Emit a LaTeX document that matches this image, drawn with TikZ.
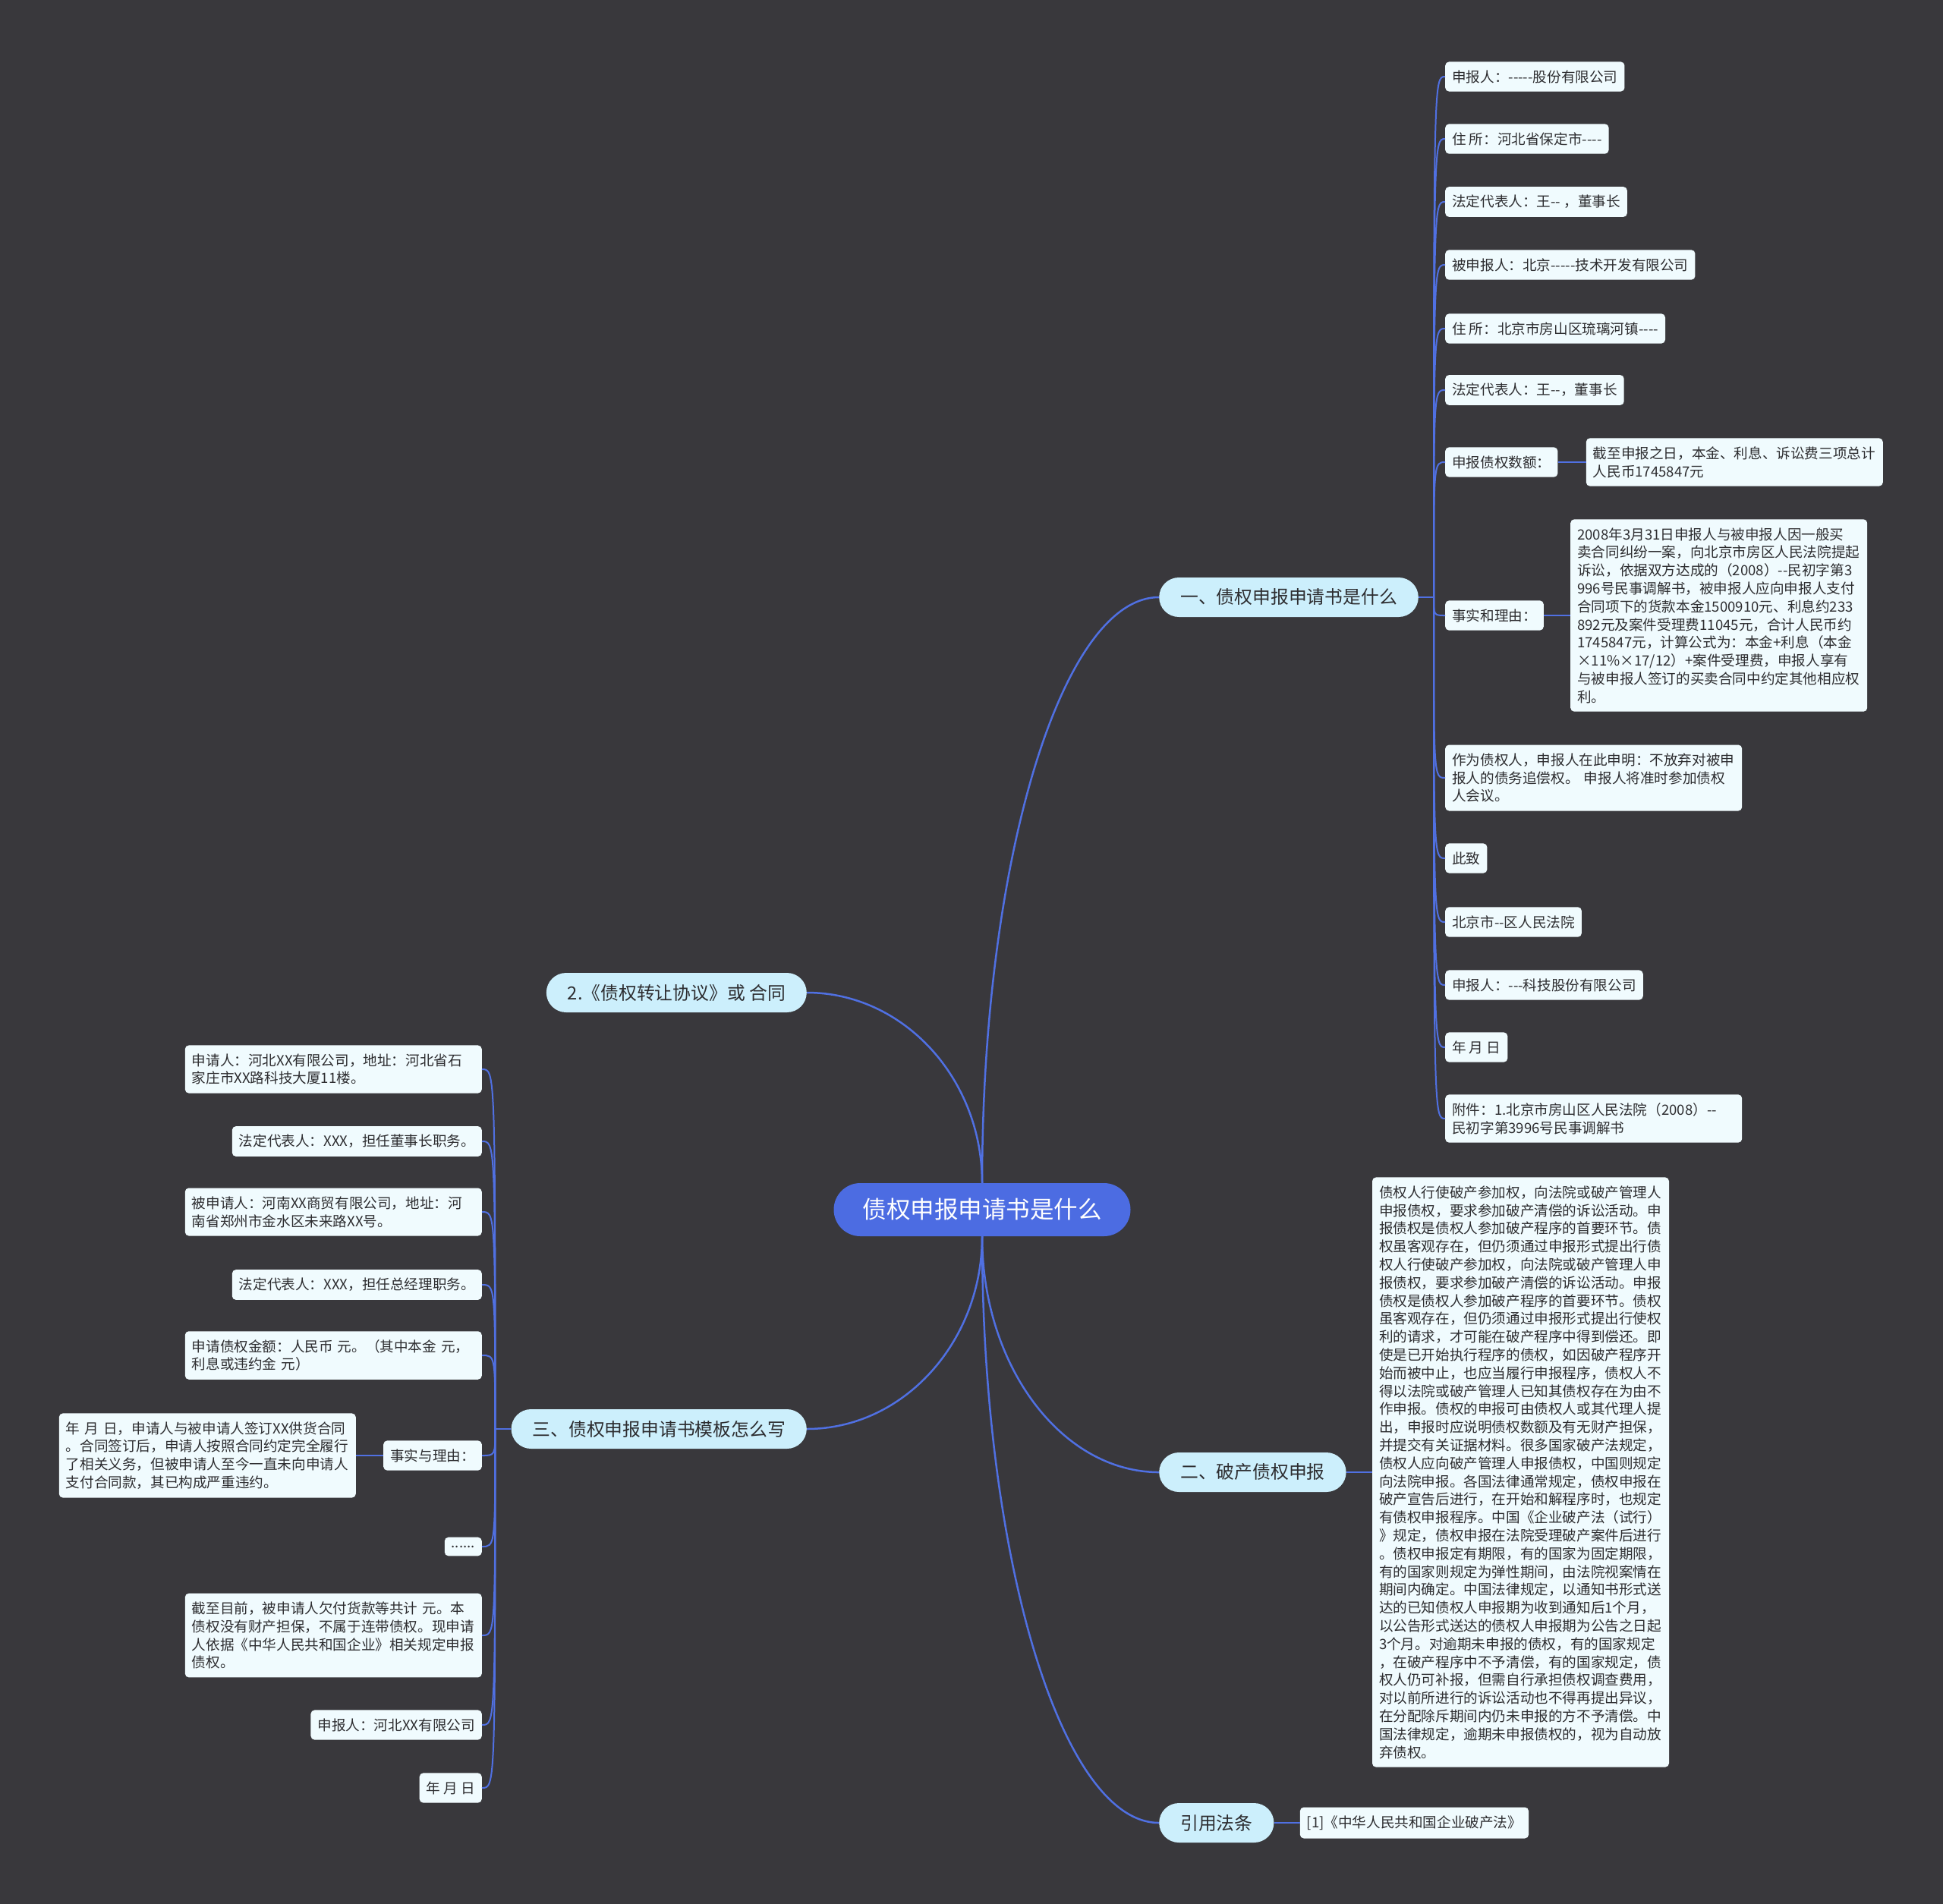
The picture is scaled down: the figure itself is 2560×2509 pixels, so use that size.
\documentclass[tikz,border=0pt]{standalone}
\usepackage{fontspec}
\newfontfamily\cjk{Noto Sans CJK SC}[Ligatures=TeXOff]
\usepackage{tikz}
\usetikzlibrary{positioning,calc}
\definecolor{bgc}{RGB}{57,56,60}
\definecolor{lkc}{RGB}{80,112,226}
\definecolor{rootc}{RGB}{76,108,226}
\definecolor{brc}{RGB}{204,239,252}
\definecolor{lfc}{RGB}{240,251,254}
\definecolor{txc}{RGB}{45,45,48}
\begin{document}
\begin{tikzpicture}[x=1pt,y=-1pt]
\tikzstyle{root}=[fill=rootc,text=white,rounded corners=35pt,minimum height=70pt,inner xsep=38pt,font=\cjk\fontsize{31.5}{36}\selectfont]
\tikzstyle{br}=[fill=brc,text=txc,rounded corners=26pt,minimum height=52pt,inner xsep=28pt,font=\cjk\fontsize{23.8}{28}\selectfont]
\tikzstyle{lf}=[fill=lfc,text=txc,rounded corners=5pt,inner xsep=9pt,inner ysep=11pt,align=left,font=\cjk\fontsize{18.6}{23.8}\selectfont]
\tikzstyle{wr}=[text width=373pt]
\tikzstyle{lk}=[draw=lkc,line width=2.5pt]
\tikzstyle{lk2}=[draw=lkc,line width=2pt]
\tikzstyle{mmcurve}=[to path={.. controls ($(\tikztostart)!0.55!(\tikztostart |- \tikztotarget)$)
  and ($(\tikztotarget)!0.55!(\tikztostart |- \tikztotarget)$) .. (\tikztotarget)}]
\fill[bgc] (0,0) rectangle (2560,2509);
\useasboundingbox (0,0) rectangle (2560,2509);
% centre and main branches
\node[root] (root) at (1294,1594) {债权申报申请书是什么};
\node[br,anchor=west] (b1) at (1527,787) {一、债权申报申请书是什么};
\node[br,anchor=west] (b2) at (1527,1940) {二、破产债权申报};
\node[br,anchor=west] (b3) at (1527,2402) {引用法条};
\node[br,anchor=east] (b4) at (1063,1308) {2.《债权转让协议》或 合同};
\node[br,anchor=east] (b5) at (1063,1883) {三、债权申报申请书模板怎么写};
\draw[lk,mmcurve] (root.north) to (b1.west);
\draw[lk,mmcurve] (root.north) to (b4.east);
\draw[lk,mmcurve] (root.south) to (b2.west);
\draw[lk,mmcurve] (root.south) to (b3.west);
\draw[lk,mmcurve] (root.south) to (b5.east);
% branch one
\node[lf,anchor=west] (r1) at (1904,101) {申报人：-----股份有限公司};
\node[lf,anchor=west] (r2) at (1904,183) {住 所：河北省保定市----};
\node[lf,anchor=west] (r3) at (1904,266) {法定代表人：王-- ，董事长};
\node[lf,anchor=west] (r4) at (1904,349) {被申报人：北京-----技术开发有限公司};
\node[lf,anchor=west] (r5) at (1904,433) {住 所：北京市房山区琉璃河镇----};
\node[lf,anchor=west] (r6) at (1904,514) {法定代表人：王--，董事长};
\node[lf,anchor=west] (r7) at (1904,609) {申报债权数额：};
\node[lf,wr,right=37pt of r7] (r7a)
{截至申报之日，本金、利息、诉讼费三项总计\\人民币1745847元};
\node[lf,anchor=west] (r8) at (1904,811) {事实和理由：};
\node[lf,wr,right=35pt of r8] (r8a)
{2008年3月31日申报人与被申报人因一般买\\卖合同纠纷一案，向北京市房区人民法院提起\\
诉讼，依据双方达成的（2008）--民初字第3\\996号民事调解书，被申报人应向申报人支付\\
合同项下的货款本金1500910元、利息约233\\892元及案件受理费11045元，合计人民币约\\
1745847元，计算公式为：本金+利息（本金\\×11\%×17/12）+案件受理费，申报人享有\\
与被申报人签订的买卖合同中约定其他相应权\\利。};
\node[lf,wr,anchor=west] (r9) at (1904,1025)
{作为债权人，申报人在此申明：不放弃对被申\\报人的债务追偿权。 申报人将准时参加债权\\人会议。};
\node[lf,anchor=west] (r10) at (1904,1131) {此致};
\node[lf,anchor=west] (r11) at (1904,1215) {北京市--区人民法院};
\node[lf,anchor=west] (r12) at (1904,1298) {申报人：---科技股份有限公司};
\node[lf,anchor=west] (r13) at (1904,1380) {年 月 日};
\node[lf,wr,anchor=west] (r14) at (1904,1474)
{附件：1.北京市房山区人民法院（2008）--\\民初字第3996号民事调解书};
\coordinate (s1) at ([xshift=20pt]b1.east);
\draw[lk2] (b1.east) -- (s1);
\draw[lk2] (s1) .. controls (s1 |- r1.west) .. (r1.west);
\draw[lk2] (s1) .. controls (s1 |- r2.west) .. (r2.west);
\draw[lk2] (s1) .. controls (s1 |- r3.west) .. (r3.west);
\draw[lk2] (s1) .. controls (s1 |- r4.west) .. (r4.west);
\draw[lk2] (s1) .. controls (s1 |- r5.west) .. (r5.west);
\draw[lk2] (s1) .. controls (s1 |- r6.west) .. (r6.west);
\draw[lk2] (s1) .. controls (s1 |- r7.west) .. (r7.west);
\draw[lk2] (s1) .. controls (s1 |- r8.west) .. (r8.west);
\draw[lk2] (s1) .. controls (s1 |- r9.west) .. (r9.west);
\draw[lk2] (s1) .. controls (s1 |- r10.west) .. (r10.west);
\draw[lk2] (s1) .. controls (s1 |- r11.west) .. (r11.west);
\draw[lk2] (s1) .. controls (s1 |- r12.west) .. (r12.west);
\draw[lk2] (s1) .. controls (s1 |- r13.west) .. (r13.west);
\draw[lk2] (s1) .. controls (s1 |- r14.west) .. (r14.west);
\draw[lk] (r7) -- (r7a);
\draw[lk] (r8) -- (r8a);
% branch two and three
\node[lf,wr,right=34pt of b2] (b2a)
{债权人行使破产参加权，向法院或破产管理人\\申报债权，要求参加破产清偿的诉讼活动。申\\
报债权是债权人参加破产程序的首要环节。债\\权虽客观存在，但仍须通过申报形式提出行债\\
权人行使破产参加权，向法院或破产管理人申\\报债权，要求参加破产清偿的诉讼活动。申报\\
债权是债权人参加破产程序的首要环节。债权\\虽客观存在，但仍须通过申报形式提出行使权\\
利的请求，才可能在破产程序中得到偿还。即\\使是已开始执行程序的债权，如因破产程序开\\
始而被中止，也应当履行申报程序，债权人不\\得以法院或破产管理人已知其债权存在为由不\\
作申报。债权的申报可由债权人或其代理人提\\出，申报时应说明债权数额及有无财产担保，\\
并提交有关证据材料。很多国家破产法规定，\\债权人应向破产管理人申报债权，中国则规定\\
向法院申报。各国法律通常规定，债权申报在\\破产宣告后进行，在开始和解程序时，也规定\\
有债权申报程序。中国《企业破产法（试行）\\》规定，债权申报在法院受理破产案件后进行\\
。债权申报定有期限，有的国家为固定期限，\\有的国家则规定为弹性期间，由法院视案情在\\
期间内确定。中国法律规定，以通知书形式送\\达的已知债权人申报期为收到通知后1个月，\\
以公告形式送达的债权人申报期为公告之日起\\3个月。对逾期未申报的债权，有的国家规定\\
，在破产程序中不予清偿，有的国家规定，债\\权人仍可补报，但需自行承担债权调查费用，\\
对以前所进行的诉讼活动也不得再提出异议，\\在分配除斥期间内仍未申报的方不予清偿。中\\
国法律规定，逾期未申报债权的，视为自动放\\弃债权。};
\draw[lk] (b2) -- (b2a);
\node[lf,right=34pt of b3] (b3a) {[1]《中华人民共和国企业破产法》};
\draw[lk] (b3) -- (b3a);
% branch five
\node[lf,wr,anchor=east] (l1) at (635,1409)
{申请人：河北XX有限公司，地址：河北省石\\家庄市XX路科技大厦11楼。};
\node[lf,anchor=east] (l2) at (635,1504) {法定代表人：XXX，担任董事长职务。};
\node[lf,wr,anchor=east] (l3) at (635,1597)
{被申请人：河南XX商贸有限公司，地址：河\\南省郑州市金水区未来路XX号。};
\node[lf,anchor=east] (l4) at (635,1693) {法定代表人：XXX，担任总经理职务。};
\node[lf,wr,anchor=east] (l5) at (635,1786)
{申请债权金额：人民币 元。（其中本金 元，\\利息或违约金 元）};
\node[lf,anchor=east] (l6) at (635,1918) {事实与理由：};
\node[lf,wr,left=36pt of l6] (l6a)
{年 月 日，申请人与被申请人签订XX供货合同\\。合同签订后，申请人按照合同约定完全履行\\
了相关义务，但被申请人至今一直未向申请人\\支付合同款，其已构成严重违约。};
\node[lf,anchor=east] (l7) at (635,2038) {......};
\node[lf,wr,anchor=east] (l8) at (635,2155)
{截至目前，被申请人欠付货款等共计 元。本\\债权没有财产担保，不属于连带债权。现申请\\
人依据《中华人民共和国企业》相关规定申报\\债权。};
\node[lf,anchor=east] (l9) at (635,2273) {申报人：河北XX有限公司};
\node[lf,anchor=east] (l10) at (635,2356) {年 月 日};
\coordinate (s5) at ([xshift=-21pt]b5.west);
\draw[lk2] (b5.west) -- (s5);
\draw[lk2] (s5) .. controls (s5 |- l1.east) .. (l1.east);
\draw[lk2] (s5) .. controls (s5 |- l2.east) .. (l2.east);
\draw[lk2] (s5) .. controls (s5 |- l3.east) .. (l3.east);
\draw[lk2] (s5) .. controls (s5 |- l4.east) .. (l4.east);
\draw[lk2] (s5) .. controls (s5 |- l5.east) .. (l5.east);
\draw[lk2] (s5) .. controls (s5 |- l6.east) .. (l6.east);
\draw[lk2] (s5) .. controls (s5 |- l7.east) .. (l7.east);
\draw[lk2] (s5) .. controls (s5 |- l8.east) .. (l8.east);
\draw[lk2] (s5) .. controls (s5 |- l9.east) .. (l9.east);
\draw[lk2] (s5) .. controls (s5 |- l10.east) .. (l10.east);
\draw[lk] (l6) -- (l6a);
\end{tikzpicture}
\end{document}
